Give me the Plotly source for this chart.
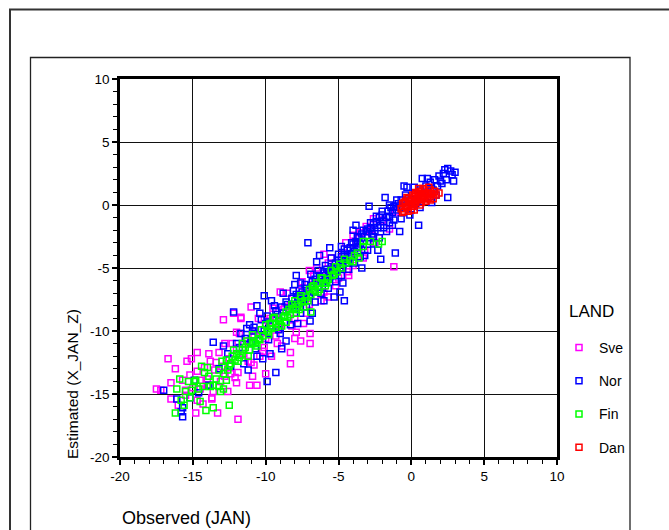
import plotly.graph_objects as go

# ---------------- data (Observed JAN vs Estimated X_JAN_Z) ----------------
sve_obs = [-16.7, -17.2, -16.5, -15.4, -15.1, -14.7, -13.9, -12.9, -11.7, -11.9,
           -13.3, -14.8, -15.7, -14.7, -13.7, -12.6, -14.0, -12.0, -11.1, -10.6,
           -12.1, -11.9, -13.2, -12.8, -12.3, -11.5, -11.0, -10.8, -10.0, -8.3,
           -8.3, -7.6, -6.95, -6.95, -7.9, -10.1, -11.7, -12.0, -13.4, -14.5,
           -15.5, -14.7, -13.7, -1.1, -3.1, -1.2, -2.0, -2.5, -3.5, -4.0,
           -4.5, -5.0, -5.5, -6.0, -6.5, -7.0, -7.5, -8.0, -8.5, -9.0,
           -9.5, -10.0, -10.5, -1.5, -2.2, -2.8, -3.8, -4.2, -4.8, -5.3,
           -5.8, -6.3, -6.8, -7.3, -7.8, -8.3, -8.8, -9.3, -9.8, -10.3,
           -10.8, -11.3, -3.3, -5.7, -7.0, -9.0, -6.0, -2.6, -4.0, -8.0,
           -11.0, -12.5, -13.0, -13.5, -14.0, -14.5, -15.0, -15.5, -16.0, -16.5,
           -17.5, -12.0, -11.5, -9.2, -10.4, -12.8, -13.6, -14.2, -6.2, -4.4,
           -12.4, -11.8, -11.2, -10.7, -10.2, -9.7, -9.3, -8.7, -8.2, -7.7,
           -7.2, -6.7, -6.2, -5.7, -5.2, -4.7, -4.3, -3.7, -3.2, -2.7,
           -13.8, -14.3, -15.2, -16.2, -13.1, -12.2, -10.9, -9.6, -8.9, -7.4]
sve_est = [-12.2, -14.7, -15.4, -12.4, -12.2, -11.7, -11.8, -9.1, -9.0, -17.0,
           -16.5, -16.5, -13.9, -13.2, -15.4, -14.8, -14.3, -14.1, -14.3, -14.3,
           -13.7, -13.3, -11.7, -11.0, -11.0, -11.8, -12.5, -12.7, -13.4, -12.6,
           -11.7, -10.8, -11.0, -10.2, -10.1, -11.3, -8.9, -10.1, -12.5, -13.9,
           -14.7, -15.5, -15.3, -0.55, -1.7, -4.9, -1.2, -3.0, -2.2, -4.8,
           -3.0, -5.8, -4.2, -6.9, -5.0, -7.9, -6.1, -9.0, -7.0, -9.8,
           -8.2, -10.6, -9.0, -1.9, -2.6, -2.0, -3.0, -4.0, -4.4, -5.0,
           -5.5, -5.9, -6.3, -7.0, -7.4, -8.0, -8.3, -8.9, -9.2, -9.9,
           -10.3, -10.8, -4.2, -7.3, -5.2, -6.9, -3.9, -1.1, -2.4, -10.6,
           -8.1, -12.2, -12.8, -13.1, -13.8, -14.6, -14.5, -15.1, -15.9, -14.1,
           -14.6, -11.4, -11.0, -11.0, -12.0, -13.6, -14.8, -12.9, -7.0, -5.3,
           -13.4, -10.2, -12.4, -10.0, -11.6, -9.0, -10.4, -8.1, -9.6, -6.8,
           -8.6, -5.6, -7.6, -4.6, -6.4, -3.8, -5.6, -2.6, -3.6, -2.4,
           -12.4, -15.8, -13.5, -13.0, -14.0, -8.6, -13.6, -12.0, -11.2, -9.4]

nor_obs = [-17.0, -15.7, -15.7, -15.8, -15.2, -14.6, -16.1, -14.9, -13.6, -13.2,
           -12.2, -11.1, -10.2, -9.9, -9.3, -8.9, -6.95, -12.6, -12.0, -11.7,
           -11.4, -11.0, -10.8, -10.5, -10.3, -10.1, -9.9, -9.7, -9.5, -9.3,
           -9.1, -8.9, -8.7, -8.6, -8.4, -8.2, -8.0, -7.9, -7.7, -7.5,
           -7.4, -7.2, -7.1, -7.0, -6.9, -6.7, -6.6, -6.4, -6.3, -6.1,
           -6.0, -5.9, -5.8, -5.6, -5.5, -5.4, -5.2, -5.1, -5.0, -4.9,
           -4.8, -4.7, -4.6, -4.5, -4.4, -4.3, -4.2, -4.1, -4.0, -3.9,
           -3.8, -3.7, -3.6, -3.5, -3.4, -3.3, -3.2, -3.1, -3.0, -2.9,
           -2.8, -2.7, -2.6, -2.5, -2.4, -2.3, -2.2, -2.1, -2.0, -1.9,
           -1.8, -1.7, -1.6, -1.5, -1.4, -1.3, -1.2, -1.1, -1.0, -0.9,
           -0.8, -0.7, -0.6, -0.5, -0.4, -0.3, -0.2, 0.0, 0.2, 0.4,
           0.5, 0.6, 0.75, 0.8, 1.0, 1.2, 1.3, 1.5, 1.6, 1.8,
           1.9, 2.1, 2.2, 2.4, 2.5, 2.5, 2.7, 2.8, 2.9, 3.0,
           -11.8, -10.9, -10.0, -9.2, -8.5, -7.8, -7.3, -6.8, -6.2, -5.7,
           -5.3, -4.4, -3.6, -2.6, -1.9, -1.2, -8.0, -6.5, -4.0, -9.6,
           -5.6, -3.4, -7.8, -10.6, -2.3, -0.8, 1.4, -4.7, -6.0, -11.5,
           -10.1, -9.1, -7.7, -4.8, -4.6, -4.9, -3.0, -1.5, 0.3, 2.0,
           -11.3, -10.7, -10.4, -9.8, -9.4, -9.0, -8.8, -8.3, -8.1, -7.6,
           -7.6, -7.2, -6.9, -6.6, -6.4, -6.2, -5.9, -5.7, -5.5, -5.2,
           -5.0, -4.8, -4.6, -4.3, -4.1, -3.9, -3.7, -3.5, -3.3, -3.0,
           -2.8, -2.6, -2.4, -2.2, -2.0, -1.7, -1.5, -1.3, -1.0, -0.7,
           -0.4, -0.1, 0.2, 0.6, 1.1, 1.7, 2.3, -12.4, -12.9, -13.9,
           -7.9, -6.3, -9.7, -5.3, -3.8, -2.1, -11.2, -8.6, -6.8, -10.6]
nor_est = [-14.7, -16.1, -16.8, -16.4, -15.3, -14.9, -15.4, -13.9, -10.9, -13.0,
           -8.5, -9.5, -12.2, -14.0, -13.3, -11.4, -9.2, -11.8, -11.0, -10.2,
           -10.6, -10.9, -9.7, -10.3, -9.1, -10.0, -8.8, -9.6, -9.0, -8.4,
           -9.2, -8.1, -8.8, -7.7, -8.3, -7.4, -8.0, -7.1, -7.8, -6.9,
           -7.5, -6.6, -3.0, -7.2, -6.4, -6.9, -5.9, -6.5, -5.6, -6.2,
           -5.4, -6.0, -5.1, -5.7, -4.9, -5.5, -4.6, -5.2, -4.4, -5.0,
           -4.1, -4.7, -3.9, -4.4, -3.6, -4.2, -3.4, -3.9, -3.1, -3.7,
           -2.9, -3.4, -2.6, -3.1, -2.3, -2.9, -4.0, -2.1, -2.6, -0.1,
           -1.8, -2.3, -1.5, -2.1, -1.3, -1.8, -1.0, -1.6, -0.8, -1.3,
           0.6, -1.0, -0.5, -0.9, -0.2, -0.6, -0.1, -3.8, -0.4, 0.1,
           -0.2, 0.4, -0.6, 1.5, 0.2, 1.4, 0.5, -0.3, 0.9, 0.3,
           -1.6, 1.2, 2.1, 0.6, 1.5, 0.9, 1.8, 1.2, 2.0, 1.5,
           2.3, 1.7, 2.5, 2.0, 2.9, 0.6, 2.7, 2.4, 1.9, 2.6,
           -11.3, -10.0, -9.4, -8.7, -7.9, -7.3, -6.3, -6.1, -5.8, -5.3,
           -4.9, -4.6, -3.3, -2.5, -1.8, -1.2, -6.3, -4.5, -2.0, -7.6,
           -3.4, -5.0, -9.4, -12.0, -3.6, -2.1, 0.2, -6.2, -7.6, -12.6,
           -7.2, -9.9, -7.1, -3.3, -7.6, -6.9, -1.9, -1.4, 0.1, 1.9,
           -9.8, -11.4, -8.6, -10.7, -8.0, -10.2, -7.0, -9.5, -6.8, -8.6,
           -6.2, -8.1, -5.5, -7.7, -5.2, -7.0, -4.8, -6.6, -4.2, -6.1,
           -3.9, -5.6, -3.5, -5.1, -3.0, -4.6, -2.5, -4.1, -2.0, -3.6,
           -1.4, -3.1, -0.9, -2.6, -0.5, -2.1, 0.0, -1.6, 0.4, -1.1,
           0.8, -0.8, 1.4, -0.2, 2.1, 0.8, 2.8, -12.8, -11.2, -14.3,
           -5.6, -4.0, -11.8, -7.3, -1.6, -4.3, -13.1, -10.8, -8.6, -8.0]

fin_obs = [-16.2, -14.1, -12.5, -13.6, -15.9, -16.1, -15.5, -15.2, -14.4, -14.2,
           -14.8, -14.3, -13.8, -13.2, -13.1, -12.7, -13.2, -12.6, -12.7, -12.1,
           -11.6, -10.9, -10.4, -9.8, -9.3, -8.6, -7.9, -6.9, -7.4, -15.8,
           -15.1, -14.6, -13.6, -12.0, -11.7, -11.4, -11.1, -10.8, -10.5, -10.2,
           -9.9, -9.6, -9.3, -9.0, -8.7, -8.4, -8.1, -7.8, -7.5, -7.2,
           -6.9, -6.6, -6.3, -6.0, -5.7, -5.4, -5.1, -4.8, -4.5, -4.2,
           -3.9, -3.6, -3.3, -3.3, -2.25, -2.0, -11.9, -11.2, -10.6, -10.0,
           -9.5, -8.9, -8.3, -7.7, -7.0, -6.5, -5.9, -5.2, -4.6, -4.0,
           -10.9, -8.0, -6.2, -12.3, -11.6, -9.7, -8.6, -7.3, -6.8, -5.5,
           -4.9, -3.7, -2.8, -14.9, -15.6, -13.9, -12.9, -12.4, -8.8, -7.6,
           -13.0, -12.5, -12.2, -11.8, -11.3, -10.7, -10.3, -9.8, -9.4, -9.1,
           -8.5, -8.2, -7.9, -7.6, -7.1, -6.7, -6.4, -6.1, -5.8, -5.3,
           -14.5, -13.4, -14.0, -15.3, -12.9]
fin_est = [-16.5, -16.3, -15.9, -16.1, -13.8, -14.6, -14.8, -15.3, -12.8, -13.3,
           -13.9, -14.4, -14.4, -14.4, -14.8, -13.9, -13.1, -13.1, -12.3, -12.3,
           -11.5, -11.0, -10.7, -10.1, -9.7, -9.3, -8.6, -8.5, -8.1, -15.5,
           -14.7, -14.6, -14.3, -11.8, -11.9, -11.3, -11.5, -10.9, -10.6, -10.4,
           -10.0, -9.8, -9.4, -9.2, -8.8, -8.3, -8.2, -7.9, -7.7, -7.3,
           -7.1, -6.8, -6.7, -6.2, -5.9, -5.6, -5.3, -5.0, -4.6, -4.4,
           -4.0, -4.2, -2.9, -3.3, -3.1, -2.9, -12.4, -12.0, -11.2, -9.5,
           -9.0, -9.6, -8.7, -8.3, -6.7, -6.2, -6.4, -4.9, -4.3, -4.5,
           -10.3, -7.6, -5.8, -12.0, -11.0, -9.4, -8.5, -7.6, -6.5, -5.2,
           -4.7, -3.8, -2.9, -14.0, -15.9, -13.6, -13.4, -12.6, -8.9, -7.4,
           -12.4, -12.8, -11.5, -12.1, -10.8, -11.0, -9.9, -10.3, -8.9, -9.5,
           -8.9, -7.9, -8.3, -7.2, -7.6, -6.4, -6.9, -5.8, -6.2, -5.5,
           -15.6, -13.8, -12.9, -14.0, -14.6]

dan_obs = [-0.7, -0.6, -0.5, -0.4, -0.3, -0.2, -0.1, 0.0, 0.1, 0.2,
           0.3, 0.4, 0.5, 0.6, 0.7, 0.8, 0.9, 1.0, 1.1, 1.2,
           1.3, 1.4, 1.5, 1.6, 1.9, -0.5, -0.3, 0.0, 0.2, 0.4,
           0.6, 0.8, 1.0, 0.3, 0.5, 0.7, 0.9, 1.1, -0.2, 0.1,
           -0.6, -0.4, 0.0, 0.5, 1.3, 1.7, 0.2, -0.1, 0.8, 1.2]
dan_est = [-0.3, 0.1, -0.5, 0.3, -0.2, 0.5, 0.0, 0.4, -0.1, 0.7,
           0.2, 0.9, 0.4, 1.1, 0.6, 1.3, 0.8, 0.3, 1.0, 0.6,
           1.2, 0.9, 0.5, 1.1, 0.95, 0.2, 0.6, -0.4, 0.1, 0.5,
           0.0, 0.5, 0.9, 1.0, 1.3, 0.2, 1.2, 0.5, -0.5, 0.8,
           -0.6, -0.1, 0.1, 0.7, 0.4, 0.8, -0.4, 0.3, 0.9, 1.4]

series = [
    ("Sve", sve_obs, sve_est, "#ff00ff"),
    ("Nor", nor_obs, nor_est, "#0000ff"),
    ("Fin", fin_obs, fin_est, "#00ff00"),
    ("Dan", dan_obs, dan_est, "#ff0000"),
]
axis_ticks = [-20, -15, -10, -5, 0, 5, 10]
axis_ticktext = ["-20", "-15", "-10", "-5", "0", "5", "10"]

# ---------------- layout geometry ----------------
W, H = 669, 530
ML, MR, MT, MB = 120, 112, 79, 73
PW, PH = W - ML - MR, H - MT - MB


def fx(px):
    return (px - ML) / PW


def fy(py):
    return (H - MB - py) / PH


FONT = "Arial, Liberation Sans, sans-serif"

fig = go.Figure()
for name, xs, ys, col in series:
    fig.add_trace(go.Scatter(
        x=xs, y=ys, mode="markers", name=name, legendgroup=name,
        marker=dict(symbol="square-open", size=6, color=col,
                    line=dict(width=1.5, color=col)),
    ))

axis_common = dict(
    range=[-20, 10], tickmode="array",
    tickvals=axis_ticks, ticktext=axis_ticktext,
    ticks="outside", ticklen=5, tickwidth=1.5, tickcolor="black",
    showline=True, linewidth=2.5, linecolor="black", mirror=True,
    showgrid=True, gridcolor="#111111", gridwidth=1.3,
    zeroline=False,
    tickfont=dict(family=FONT, size=13.5, color="black"),
    minor=dict(dtick=1, ticks="outside", ticklen=4, tickwidth=1,
               tickcolor="black", showgrid=False),
)

fig.update_layout(
    width=W, height=H,
    margin=dict(l=ML, r=MR, t=MT, b=MB, pad=0),
    paper_bgcolor="white", plot_bgcolor="white",
    font=dict(family=FONT, color="black"),
    xaxis=dict(**axis_common),
    yaxis=dict(**axis_common),
    showlegend=True,
    legend=dict(
        x=fx(559), y=fy(332), xanchor="left", yanchor="top",
        font=dict(family=FONT, size=14, color="black"),
        bgcolor="rgba(0,0,0,0)", tracegroupgap=12,
        itemsizing="trace",
    ),
    shapes=[
        dict(type="rect", xref="paper", yref="paper",
             x0=fx(10), x1=fx(720), y0=fy(580), y1=fy(9.5),
             line=dict(color="#333333", width=2), layer="below"),
        dict(type="rect", xref="paper", yref="paper",
             x0=fx(30.5), x1=fx(630), y0=fy(580), y1=fy(57.5),
             line=dict(color="#222222", width=1.3), layer="below"),
    ],
    annotations=[
        dict(text="Observed (JAN)", xref="paper", yref="paper",
             x=fx(120), y=fy(518), xanchor="left", yanchor="middle",
             showarrow=False, font=dict(family=FONT, size=18, color="black")),
        dict(text="Estimated (X_JAN_Z)", xref="paper", yref="paper",
             x=fx(72), y=fy(384), xanchor="center", yanchor="middle",
             textangle=-90, showarrow=False,
             font=dict(family=FONT, size=15.5, color="black")),
        dict(text="LAND", xref="paper", yref="paper",
             x=fx(591), y=fy(311), xanchor="center", yanchor="middle",
             showarrow=False, font=dict(family=FONT, size=17, color="black")),
    ],
)

fig.write_html("out.html")
